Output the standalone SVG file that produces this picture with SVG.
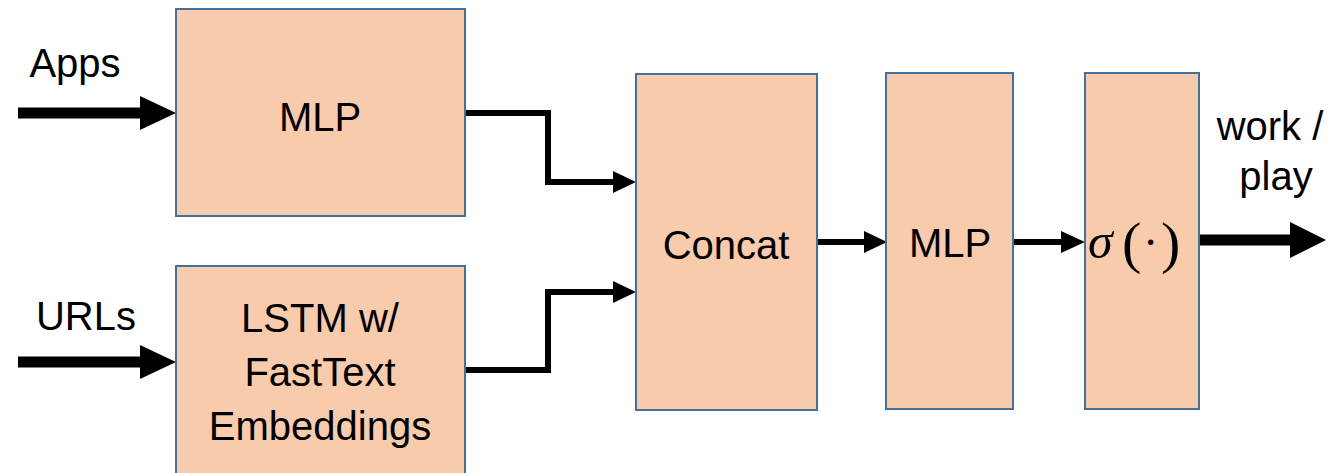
<svg xmlns="http://www.w3.org/2000/svg" width="1337" height="473" viewBox="0 0 1337 473">
  <defs>
    <style>
      .box { fill: #F8CBAD; stroke: #41719C; stroke-width: 2; }
      .lbl { font-family: "Liberation Sans", Arial, sans-serif; font-size: 40px; fill: #000; text-anchor: middle; }
      .math { font-family: "Liberation Serif", "DejaVu Serif", serif; fill: #000; }
      .thick { stroke: #000; stroke-width: 11; fill: none; }
      .thin { stroke: #000; stroke-width: 6; fill: none; }
      .head { fill: #000; }
    </style>
  </defs>
  <rect width="1337" height="473" fill="#fff"/>

  <!-- connectors -->
  <g id="connectors">
    <!-- Apps input -->
    <line class="thick" x1="18" y1="113" x2="142" y2="113"/>
    <polygon class="head" points="140,96 176,113 140,130"/>
    <!-- URLs input -->
    <line class="thick" x1="18" y1="362" x2="142" y2="362"/>
    <polygon class="head" points="140,345 176,362 140,379"/>
    <!-- MLP -> Concat -->
    <polyline class="thin" points="465,113 548,113 548,182 615,182"/>
    <polygon class="head" points="613,171 636,182 613,193"/>
    <!-- LSTM -> Concat -->
    <polyline class="thin" points="465,370 548,370 548,292 615,292"/>
    <polygon class="head" points="613,281 636,292 613,303"/>
    <!-- Concat -> MLP -->
    <line class="thin" x1="817" y1="242" x2="866" y2="242"/>
    <polygon class="head" points="864,231 887,242 864,253"/>
    <!-- MLP -> sigma -->
    <line class="thin" x1="1013" y1="242" x2="1063" y2="242"/>
    <polygon class="head" points="1061,231 1085,242 1061,253"/>
    <!-- sigma output -->
    <line class="thick" x1="1199" y1="240" x2="1292" y2="240"/>
    <polygon class="head" points="1290,222 1326,240 1290,258"/>
  </g>

  <g id="input-apps">
    <text class="lbl" x="75" y="77">Apps</text>
  </g>
  <g id="input-urls">
    <text class="lbl" x="86" y="330">URLs</text>
  </g>

  <g id="mlp-apps">
    <rect class="box" x="176" y="9" width="289" height="207"/>
    <text class="lbl" x="320" y="131">MLP</text>
  </g>

  <g id="lstm-urls">
    <rect class="box" x="176" y="266" width="289" height="210"/>
    <text class="lbl" x="320" y="332">LSTM w/</text>
    <text class="lbl" x="320" y="386">FastText</text>
    <text class="lbl" x="320" y="440">Embeddings</text>
  </g>

  <g id="concat">
    <rect class="box" x="636" y="74" width="181" height="336"/>
    <text class="lbl" x="726" y="259">Concat</text>
  </g>

  <g id="mlp-head">
    <rect class="box" x="886" y="73" width="127" height="336"/>
    <text class="lbl" x="950" y="257">MLP</text>
  </g>

  <g id="sigmoid">
    <rect class="box" x="1085" y="73" width="114" height="336"/>
    <!-- sigma(.) set as math: italic sigma, upright parentheses, centred dot -->
    <text class="math" x="1088" y="258" font-size="50" font-style="italic">σ</text>
    <text class="math" x="1122" y="262" font-size="58">(</text>
    <text class="math" x="1143" y="258" font-size="46">·</text>
    <text class="math" x="1161" y="262" font-size="58">)</text>
  </g>

  <g id="output">
    <text class="lbl" x="1270" y="140">work /</text>
    <text class="lbl" x="1276" y="190">play</text>
  </g>
</svg>
